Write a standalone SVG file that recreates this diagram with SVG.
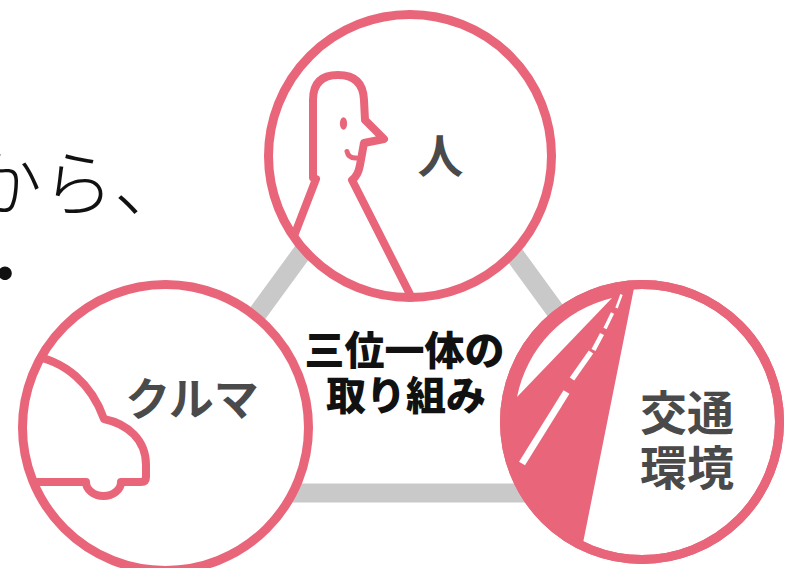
<svg xmlns="http://www.w3.org/2000/svg" width="786" height="568" viewBox="0 0 786 568">
  <style>
    .link { fill: none; stroke: #C9C9C9; stroke-width: 19; }
    .ring { fill: #FFFFFF; stroke: #E8657A; stroke-width: 9; }
    .rim { fill: none; stroke: #E8657A; stroke-width: 9; }
    .ink { fill: none; stroke: #E8657A; stroke-width: 8; stroke-linejoin: round; stroke-linecap: round; }
    .label { font-family: "Noto Sans CJK JP", "Noto Sans", sans-serif; fill: #4A4A4A; font-weight: 700; text-anchor: middle; }
    .core { font-family: "Noto Sans CJK JP", "Noto Sans", sans-serif; fill: #111111; font-weight: 900; text-anchor: middle; font-size: 40px; }
    .caption { font-family: "Noto Sans CJK JP", "Noto Sans", sans-serif; fill: #111111; font-weight: 300; font-size: 72px; }
    .lane { stroke: #FFFFFF; stroke-linecap: butt; }
  </style>
  <defs>
    <clipPath id="clip-hito"><circle cx="410" cy="156" r="141.5"/></clipPath>
    <clipPath id="clip-kuruma"><circle cx="165.5" cy="427.5" r="143"/></clipPath>
    <clipPath id="clip-kotsu"><circle cx="642" cy="422" r="138"/></clipPath>
  </defs>

  <rect width="786" height="568" fill="#FFFFFF"/>

  <!-- caption text, cut at the left edge -->
  <g id="caption">
    <text class="caption" x="-30" y="210">から、</text>
    <text class="caption" x="-31" y="300">・</text>
  </g>

  <!-- grey triangle linking the three circles -->
  <g id="connectors">
    <line class="link" x1="407.5" y1="108" x2="126.7" y2="493"/>
    <line class="link" x1="407.5" y1="108" x2="688.3" y2="493"/>
    <line class="link" x1="120" y1="493" x2="700" y2="493"/>
  </g>

  <!-- person -->
  <g id="node-hito">
    <circle class="ring" cx="410" cy="156" r="141.5"/>
    <g clip-path="url(#clip-hito)">
      <path class="ink" d="M284,262 L316,179 L313,178 L313,100 Q313,75 338,75 Q363,75 364,100 L365,120 L384,139 L364,143 L360,165 Q358,176 352,180 L422,318"/>
      <ellipse cx="343.5" cy="123.5" rx="3.6" ry="6.2" fill="#E8657A"/>
      <path d="M347,151.5 Q348.5,158.5 356.5,158" fill="none" stroke="#E8657A" stroke-width="5" stroke-linecap="round"/>
    </g>
    <text class="label" x="440.5" y="173" font-size="46" font-weight="500">人</text>
  </g>

  <!-- car -->
  <g id="node-kuruma">
    <circle class="ring" cx="165.5" cy="427.5" r="143"/>
    <g clip-path="url(#clip-kuruma)">
      <path class="ink" stroke-width="9" d="M28,355 C66,360 92,385 104,419 C128,424 146,440 146,465 L146,477 Q146,482 141,482 L121,482 A17.5,14 0 0 1 86,482 L15,482"/>
    </g>
    <text class="label" x="192" y="416" font-size="45">クルマ</text>
  </g>

  <!-- road -->
  <g id="node-kotsu">
    <circle class="ring" cx="642" cy="422" r="137.5"/>
    <g clip-path="url(#clip-kotsu)">
      <polygon points="637.6,270 576.6,575 490,575 490,270" fill="#E8657A"/>
      <path d="M517,397 L612,298 A127,127 0 0 0 517,397 Z" fill="#FFFFFF"/>
      <line class="lane" x1="621.5" y1="294.5" x2="616.5" y2="308" stroke-width="2.5"/>
      <line class="lane" x1="612.5" y1="313" x2="605" y2="328.5" stroke-width="3.5"/>
      <line class="lane" x1="602" y1="334" x2="593.5" y2="350" stroke-width="4.5"/>
      <line class="lane" x1="591" y1="352" x2="572" y2="379" stroke-width="5.5"/>
      <line class="lane" x1="566.5" y1="392" x2="522" y2="463.5" stroke-width="7"/>
    </g>
    <circle class="rim" cx="642" cy="422" r="137.5"/>
    <text class="label" x="687" y="430" font-size="47">交通</text>
    <text class="label" x="687" y="485" font-size="47">環境</text>
  </g>

  <!-- centre caption -->
  <g id="node-center">
    <text class="core" x="404.5" y="364.5">三位一体の</text>
    <text class="core" x="406" y="409.5">取り組み</text>
  </g>
</svg>
